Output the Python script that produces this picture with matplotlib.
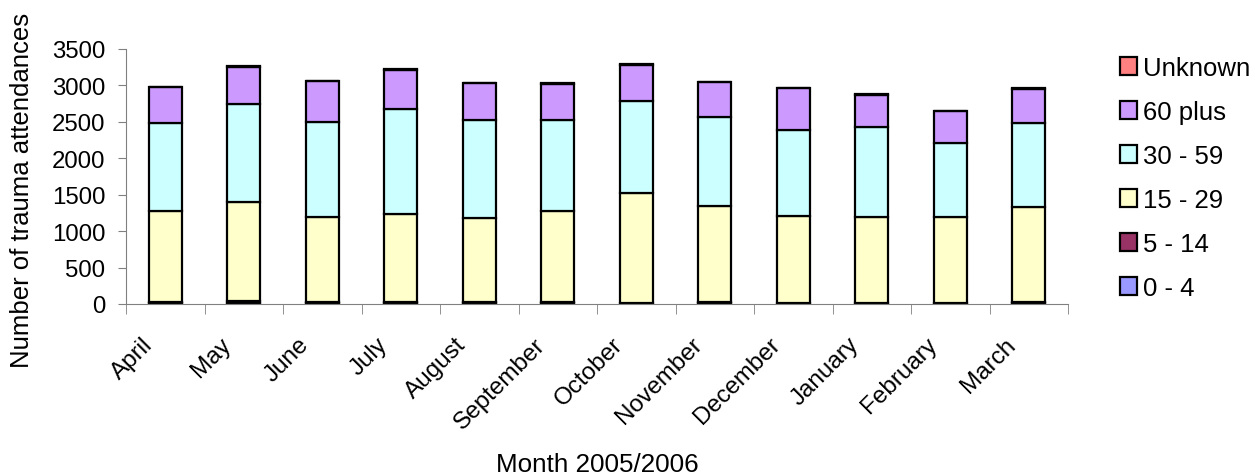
#!/usr/bin/env python3
# -*- coding=utf-8 -*-
from matplotlib import pyplot as plt
from matplotlib.transforms import ScaledTranslation
import numpy as np
plt.rcParams['font.family'] = ['Liberation Sans', 'DejaVu Sans']

months = ['April', 'May', 'June', 'July', 'August', 'September',
          'October', 'November', 'December', 'January', 'February', 'March']
age_0_4 = [10, 12, 10, 10, 10, 10, 8, 12, 8, 8, 8, 10]
age_5_14 = [15, 25, 18, 15, 15, 20, 12, 20, 12, 12, 10, 15]
age_15_29 = [1255, 1363, 1162, 1215, 1155, 1240, 1500, 1313, 1190, 1180, 1182, 1305]
age_30_59 = [1200, 1350, 1313, 1440, 1340, 1260, 1260, 1225, 1175, 1230, 1010, 1160]
age_60_plus = [495, 505, 552, 535, 515, 495, 505, 475, 580, 445, 435, 465]
unknown = [5, 5, 5, 5, 5, 5, 5, 5, 5, 5, 5, 5]

series = [('0 - 4', age_0_4, '#9999FF'),
          ('5 - 14', age_5_14, '#993366'),
          ('15 - 29', age_15_29, '#FFFFCC'),
          ('30 - 59', age_30_59, '#CCFFFF'),
          ('60 plus', age_60_plus, '#CC99FF'),
          ('Unknown', unknown, '#FF8080')]

fig = plt.figure(figsize=(12.55, 4.77), dpi=100)
ax = fig.add_axes([0.1004, 0.3606, 0.7506, 0.5346])

x = np.arange(len(months))
bottom = np.zeros(len(months))
for name, vals, col in series:
    ax.bar(x, vals, 0.42, bottom=bottom, color=col, edgecolor='black',
           linewidth=1.6, label=name)
    bottom += np.array(vals)

ax.set_xlim(-0.5, len(months) - 0.5)
ax.set_ylim(0, 3500)
ax.set_yticks(range(0, 3501, 500))
ax.tick_params(axis='y', labelsize=17.3, direction='out', length=6, pad=9, color='#808080')

# month labels: rotated, right-top corner just left of the bar centre
ax.set_xticks(x)
ax.set_xticklabels(months, rotation=45, ha='right', va='top',
                   rotation_mode='anchor', fontsize=17.5)
ax.tick_params(axis='x', length=0, pad=21)
shift = ScaledTranslation(-0.24, 0, fig.dpi_scale_trans)
for lab in ax.get_xticklabels():
    lab.set_transform(lab.get_transform() + shift)
ax.set_xticks(np.arange(-0.5, len(months)), minor=True)
ax.tick_params(axis='x', which='minor', length=7, color='#808080', direction='out')

for s in ['top', 'right']:
    ax.spines[s].set_visible(False)
for s in ['left', 'bottom']:
    ax.spines[s].set_color('#808080')

ax.set_ylabel('Number of trauma attendances', fontsize=18.5)
ax.set_xlabel('Month 2005/2006', fontsize=18.7)
ax.yaxis.set_label_coords(-0.098, 0.45)
ax.xaxis.set_label_coords(0.5, -0.58)

handles, labels = ax.get_legend_handles_labels()
fig.legend(handles[::-1], labels[::-1], loc='upper left',
           bbox_to_anchor=(1120 / 1255, 1 - 57 / 477), borderpad=0, borderaxespad=0,
           frameon=False, fontsize=18.5, handlelength=0.68, handleheight=0.68,
           handletextpad=0.22, labelspacing=0.78)

plt.savefig('out.png', dpi=100)
